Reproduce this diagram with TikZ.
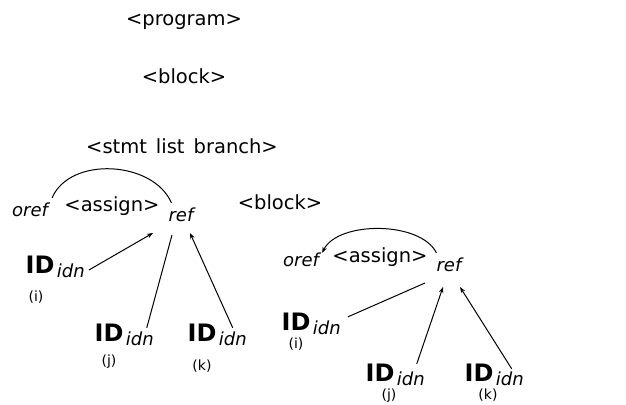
\documentclass[tikz,border=0pt]{standalone}
\usepackage{fontspec}
\setmainfont{DejaVu Sans}
\usetikzlibrary{arrows.meta,positioning,calc}
\tikzset{
  nt/.style={inner sep=0pt, font=\fontsize{19.5}{22}\selectfont},
  attr/.style={inner sep=0pt, font=\fontsize{18}{20}\selectfont\itshape},
  tok/.style={inner sep=0pt, font=\fontsize{24}{26}\selectfont\bfseries},
  idx/.style={inner sep=0pt, font=\fontsize{14}{16}\selectfont},
  ln/.style={line width=1pt},
  arr/.style={-{Stealth[length=6pt,width=4.5pt]}, line width=1pt},
  rarr/.style={{Stealth[length=6pt,width=4.5pt]}-, line width=1pt}
}

\begin{document}
\begin{tikzpicture}[x=1pt,y=1pt]
\useasboundingbox (0,0) rectangle (626,404);

% parse tree spine
\node[nt] (prog) at (184,382) {<program>};
\node[nt] (blk) at (184,328) {<block>};
\node[nt] (stmts) at (182,258) {<stmt\hspace{9pt}list\hspace{9pt}branch>};
\node[nt] (blk2) at (280,202) {<block>};

% first assignment
\node[attr] (orefL) at (30,194) {oref};
\node[nt] (asgL) at (112,198) {<assign>};
\node[attr] (refL) at (181,189) {ref};
\node[tok] (IDLi) at (40,139) {ID};
\node[attr, anchor=base west] (idnLi) at ([xshift=2pt,yshift=-4pt]IDLi.base east) {idn};
\node[idx, below=17pt of IDLi, xshift=-4pt] (iLi) {(i)};
\node[tok] (IDLj) at (109,71) {ID};
\node[attr, anchor=base west] (idnLj) at ([xshift=2pt,yshift=-4pt]IDLj.base east) {idn};
\node[idx, below=13pt of IDLj] (iLj) {(j)};
\node[tok] (IDLk) at (202,71) {ID};
\node[attr, anchor=base west] (idnLk) at ([xshift=2pt,yshift=-4pt]IDLk.base east) {idn};
\node[idx, below=18pt of IDLk] (iLk) {(k)};

\draw[ln] ($(orefL.north east)+(4,5)$) .. controls +(18,42) and +(-18,42) .. ($(refL.north west)+(3,5)$);
\draw[arr] ($(idnLi.east)+(4,1)$) -- ($(refL)+(-28,-18)$);
\draw[ln] ($(idnLj.north)+(7,4)$) -- ($(refL)+(-9,-20)$);
\draw[arr] ($(idnLk.north)+(0,4)$) -- ($(refL)+(9,-18)$);

% second assignment
\node[attr] (orefR) at (301,144) {oref};
\node[nt] (asgR) at (380,147) {<assign>};
\node[attr] (refR) at (449,139) {ref};
\node[tok] (IDRi) at (296,82) {ID};
\node[attr, anchor=base west] (idnRi) at ([xshift=2pt,yshift=-4pt]IDRi.base east) {idn};
\node[idx, below=7pt of IDRi] (iRi) {(i)};
\node[tok] (IDRj) at (380,31) {ID};
\node[attr, anchor=base west] (idnRj) at ([xshift=2pt,yshift=-4pt]IDRj.base east) {idn};
\node[idx, below=7pt of IDRj, xshift=9pt] (iRj) {(j)};
\node[tok] (IDRk) at (479,31) {ID};
\node[attr, anchor=base west] (idnRk) at ([xshift=2pt,yshift=-4pt]IDRk.base east) {idn};
\node[idx, below=7pt of IDRk, xshift=9pt] (iRk) {(k)};

\draw[rarr] ($(orefR.north east)+(3,0)$) .. controls +(16,32) and +(-16,32) .. ($(refR.north west)+(0,5)$);
\draw[ln] ($(idnRi.north east)+(7,4)$) -- ($(refR)+(-24,-18)$);
\draw[arr] ($(idnRj.north)+(6,8)$) -- ($(refR)+(-6,-22)$);
\draw[arr] ($(idnRk.north)+(2,3)$) -- ($(refR)+(11,-22)$);
\end{tikzpicture}
\end{document}
